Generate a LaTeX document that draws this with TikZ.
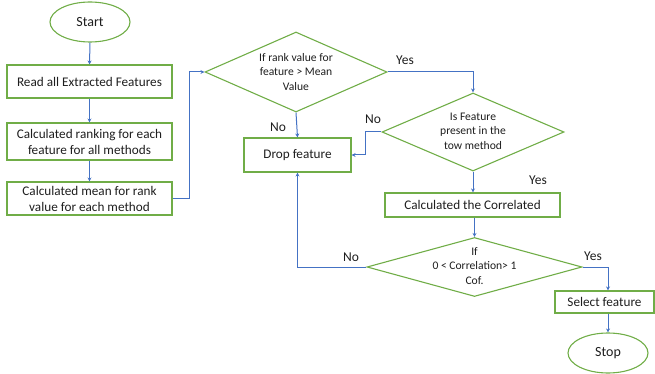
\documentclass[tikz,border=0pt]{standalone}
\usepackage{fontspec}
\setmainfont{Carlito}
\usetikzlibrary{shapes.geometric,arrows.meta}
\definecolor{gbord}{RGB}{112,173,71}
\definecolor{barrow}{RGB}{68,114,196}
\definecolor{txt}{RGB}{30,30,30}
\tikzset{
  boxnode/.style={draw=gbord, line width=1.1pt, rectangle, inner sep=0pt, text=txt, font=\fontsize{13.2}{16}\selectfont, align=center},
  termnode/.style={draw=gbord, line width=1.1pt, ellipse, inner sep=0pt, minimum width=80pt, minimum height=40pt, text=txt, font=\fontsize{14}{16}\selectfont},
  dianode/.style={draw=gbord, line width=1.1pt, diamond, inner sep=0pt},
  ditext/.style={text=txt, font=\fontsize{11.6}{14.5}\selectfont, align=center, inner sep=0pt},
  lbl/.style={text=txt, font=\fontsize{13.5}{15}\selectfont, inner sep=0pt},
  conn/.style={draw=barrow, line width=1pt, -{Stealth[length=4pt,width=4pt]}},
}
\begin{document}
\begin{tikzpicture}[x=1pt,y=-1pt]
\useasboundingbox (0,0) rectangle (655,374);
% terminals
\node[termnode] (start) at (90,22) {Start};
\node[termnode] (stop) at (608,353) {Stop};
% boxes
\node[boxnode, minimum width=165pt, minimum height=33pt] (b1) at (89.5,81.5) {Read all Extracted Features};
\node[boxnode, minimum width=165pt, minimum height=37pt] (b2) at (89.5,141.5) {Calculated ranking for each\\feature for all methods};
\node[boxnode, minimum width=165pt, minimum height=33pt] (b3) at (89.5,198.5) {Calculated mean for rank\\value for each method};
\node[boxnode, minimum width=107pt, minimum height=34pt] (drop) at (297.5,155) {Drop feature};
\node[boxnode, minimum width=175pt, minimum height=24pt] (corr) at (472.5,205) {Calculated the Correlated};
\node[boxnode, minimum width=99pt, minimum height=22pt] (sel) at (604.5,302) {Select feature};
% diamonds
\node[dianode, minimum width=182pt, minimum height=80pt] (d1) at (296,72) {};
\node[ditext] at (d1) {If rank value for\\feature > Mean\\Value};
\node[dianode, minimum width=182pt, minimum height=78pt] (d2) at (473,132) {};
\node[ditext] at (473,131) {Is Feature\\present in the\\tow method};
\node[dianode, minimum width=215pt, minimum height=59pt] (d3) at (474.5,267) {};
\node[ditext] at (474.5,266) {If\\0 < Correlation> 1\\Cof.};
% connectors
\draw[conn] (start.south) -- (b1.north);
\draw[conn] (b1.south) -- (b2.north);
\draw[conn] (b2.south) -- (b3.north);
\draw[conn] (b3.east) -| (189,72) -- (d1.west);
\draw[conn] (d1.east) -| (d2.north);
\draw[conn] (d1.south) -- (drop.north);
\draw[conn] (d2.west) -- (365,132) |- (drop.east);
\draw[conn] (d2.south) -- (corr.north -| d2.south);
\draw[conn] (corr.south -| d3.north) -- (d3.north);
\draw[conn] (d3.west) -| (drop.south);
\draw[conn] (d3.east) -| (sel.north -| stop.north);
\draw[conn] (sel.south -| stop.north) -- (stop.north);
% labels
\node[lbl] (yes1) at (405,60) {Yes};
\node[lbl] (no1) at (278,127) {No};
\node[lbl] (no2) at (373,119) {No};
\node[lbl] (yes2) at (538,180) {Yes};
\node[lbl] (no3) at (351,257) {No};
\node[lbl] (yes3) at (593,256) {Yes};
\end{tikzpicture}
\end{document}
